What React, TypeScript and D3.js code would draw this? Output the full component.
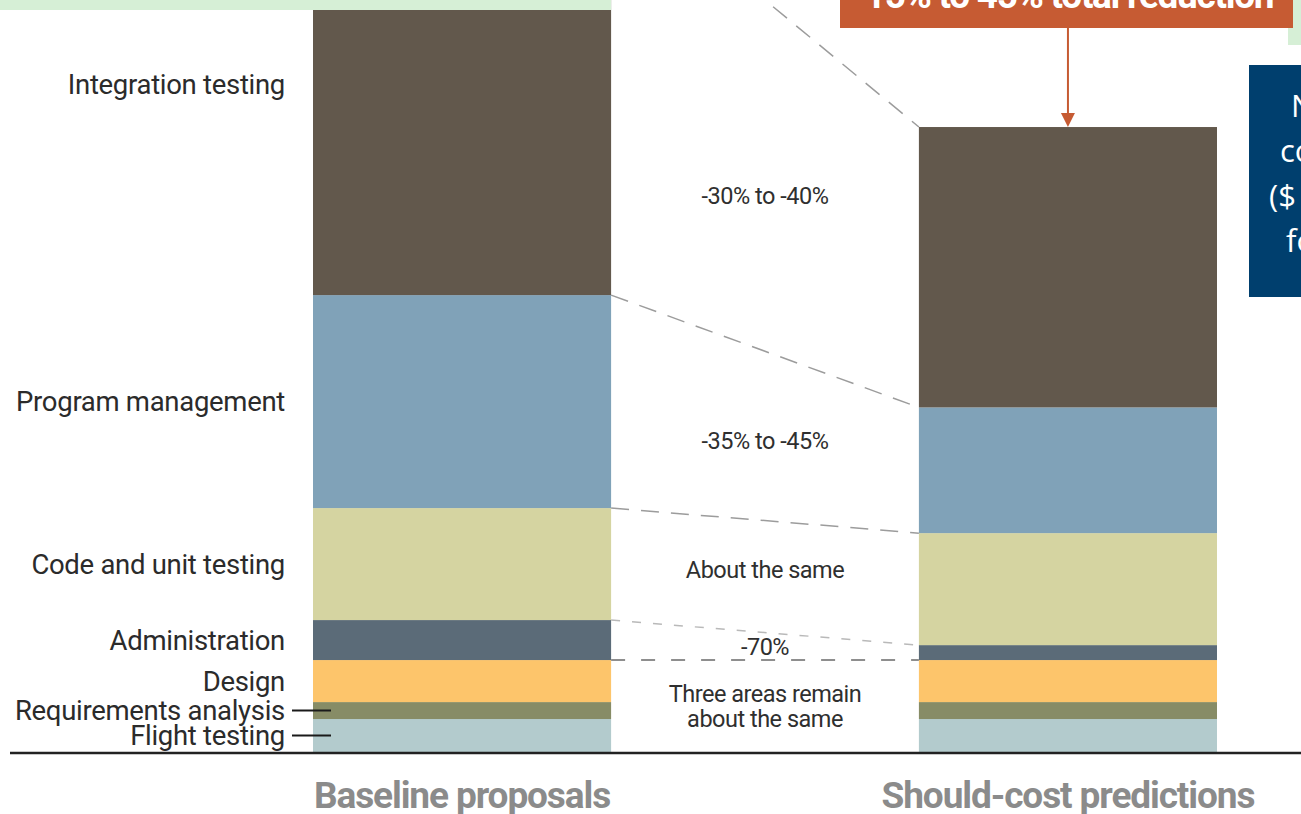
import React from "react";
import * as d3 from "d3";

// ---- data ----
const categories = ["Flight testing", "Requirements analysis", "Design", "Administration", "Code and unit testing", "Program management", "Integration testing"];
const baselineValues = [3.75, 1.93, 4.78, 4.55, 12.74, 24.23, 48.01];
const shouldCostValues = [3.75, 1.93, 4.78, 1.7, 12.74, 14.3, 31.9];
const barNames = ["Baseline proposals", "Should-cost predictions"];
const segmentColors = ["#b3cbcd", "#878c66", "#fdc56b", "#5b6b78", "#d5d4a1", "#80a2b8", "#62584c"];
const changeLabels = [
  ["Three areas remain", "about the same"],
  ["-70%"],
  ["About the same"],
  ["-35% to -45%"],
  ["-30% to -40%"],
];
const changeLabelOffsets = [0, 0, -7, 5, 20];
const calloutText = "15% to 45% total reduction";
const sideNoteLines = ["N", "co", "($", "fo"];

const W = 1301;
const H = 814;

function stack(vals: number[]) {
  let acc = 0;
  return vals.map((v) => {
    const s = { y0: acc, y1: acc + v };
    acc += v;
    return s;
  });
}

export default function App() {
  const x = d3.scaleBand<string>().domain(barNames).range([313, 1217]).paddingInner(0.508).paddingOuter(0);
  const y = d3.scaleLinear().domain([0, 100]).range([752, -127]);
  const bw = x.bandwidth();
  const xL = x(barNames[0])!;
  const xR = x(barNames[1])!;
  const leftStack = stack(baselineValues);
  const rightStack = stack(shouldCostValues);
  const midX = (xL + bw + xR) / 2;
  const rightTotal = d3.sum(shouldCostValues);

  const connectorIdx = [2, 3, 4, 5, 6];
  const connectorStyle = [
    { dash: "14 16", color: "#8e8e8e", w: 2 },
    { dash: "9 12", color: "#b9b9b9", w: 1.5 },
    { dash: "18 12", color: "#9c9c9c", w: 1.5 },
    { dash: "18 12", color: "#9c9c9c", w: 1.5 },
    { dash: "18 12", color: "#9c9c9c", w: 1.5 },
  ];
  const lineAtMid = (i: number) => (y(leftStack[i].y1) + y(rightStack[i].y1)) / 2;

  const labelFont = "Roboto, 'Liberation Sans', sans-serif";

  return (
    <svg width={W} height={H} style={{ position: "absolute", left: 0, top: 0, background: "#fff" }} fontFamily={labelFont}>
      <rect x={1288} y={-10} width={30} height={55} fill="#d6efd6" />

      {/* bars */}
      {[leftStack, rightStack].map((st, b) => (
        <g key={b}>
          {st.map((s, i) => (
            <rect key={i} x={b === 0 ? xL : xR} y={y(s.y1)} width={bw} height={y(s.y0) - y(s.y1)} fill={segmentColors[i]} />
          ))}
        </g>
      ))}

      {/* dashed connectors */}
      {connectorIdx.map((i, k) => (
        <line
          key={i}
          x1={xL + bw}
          x2={xR}
          y1={y(leftStack[i].y1)}
          y2={y(rightStack[i].y1)}
          stroke={connectorStyle[k].color}
          strokeWidth={connectorStyle[k].w}
          strokeDasharray={connectorStyle[k].dash}
        />
      ))}

      {/* change labels in the gap */}
      {changeLabels.map((lines, k) => {
        const lower = k === 0 ? y(0) : lineAtMid(k + 1);
        const upper = lineAtMid(k + 2);
        const cy = (lower + upper) / 2 + changeLabelOffsets[k];
        const lh = 25;
        return (
          <text key={k} x={midX} textAnchor="middle" fontSize={23.5} fill="#2f2f2f" letterSpacing={-0.5}>
            {lines.map((t, j) => (
              <tspan key={j} x={midX} y={cy + (j - (lines.length - 1) / 2) * lh} dy="0.35em">
                {t}
              </tspan>
            ))}
          </text>
        );
      })}

      {/* category labels on the left */}
      {categories.map((c, i) => {
        const cy = (y(leftStack[i].y0) + y(leftStack[i].y1)) / 2;
        return (
          <g key={c}>
            <text x={285} y={cy} dy="0.35em" textAnchor="end" fontSize={27.5} fill="#2b2b2b" letterSpacing={-0.3}>
              {c}
            </text>
            {i < 2 && <line x1={292} x2={331} y1={cy} y2={cy} stroke="#1a1a1a" strokeWidth={2} />}
          </g>
        );
      })}

      {/* green box over top-left */}
      <rect x={0} y={-20} width={xL + bw} height={30} fill="#d6efd6" />

      {/* baseline axis */}
      <line x1={10} x2={W} y1={y(0) + 1} y2={y(0) + 1} stroke="#222" strokeWidth={2.5} />

      {/* bar names */}
      {barNames.map((n) => (
        <text key={n} x={x(n)! + bw / 2} y={795} dy="0.35em" textAnchor="middle" fontSize={37} fontWeight={700} fill="#8b8b8b" letterSpacing={-1.1}>
          {n}
        </text>
      ))}

      {/* callout */}
      <rect x={840} y={-40} width={453} height={68} fill="#c65b33" />
      <text x={1069} y={8} textAnchor="middle" fontSize={37} fontWeight={700} fill="#fff" letterSpacing={-1.3}>
        {calloutText}
      </text>
      <line x1={xR + bw / 2} x2={xR + bw / 2} y1={28} y2={y(rightTotal) - 12} stroke="#c65b33" strokeWidth={2} />
      <path
        d={`M${xR + bw / 2 - 7},${y(rightTotal) - 14} L${xR + bw / 2 + 7},${y(rightTotal) - 14} L${xR + bw / 2},${y(rightTotal)} Z`}
        fill="#c65b33"
      />

      {/* side note box */}
      <rect x={1249} y={65} width={70} height={232} fill="#003f6e" />
      {sideNoteLines.map((t, i) => (
        <text key={i} x={[1291, 1280, 1269, 1286][i]} y={106 + i * 45} dy="0.35em" fontSize={31} fill="#fff" fontFamily="'Open Sans', sans-serif">
          {t}
        </text>
      ))}
    </svg>
  );
}
